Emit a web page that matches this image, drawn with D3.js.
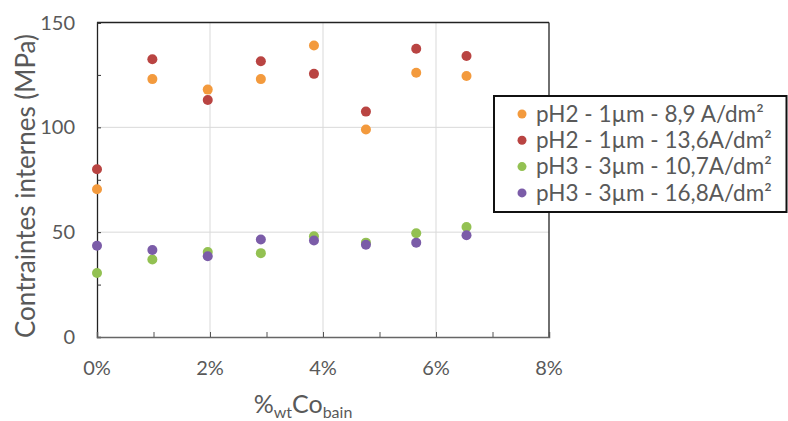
<!DOCTYPE html>
<html><head><meta charset="utf-8">
<script src="https://cdn.jsdelivr.net/npm/d3@7"></script>
<style>body{margin:0;background:#fff}svg{display:block}</style>
</head><body>
<svg id="c" width="788" height="421"></svg>
<script>
const xValues = [0, 0.98, 1.96, 2.90, 3.84, 4.76, 5.65, 6.54];
const seriesNames = ["pH2 - 1µm - 8,9 A/dm²", "pH2 - 1µm - 13,6A/dm²", "pH3 - 3µm - 10,7A/dm²", "pH3 - 3µm - 16,8A/dm²"];
const orangeValues = [70.5, 123, 118, 123, 139, 99, 126, 124.5];
const redValues = [80, 132.5, 113, 131.5, 125.5, 107.5, 137.5, 134];
const greenValues = [30.5, 37, 40.5, 40, 48, 45, 49.5, 52.5];
const purpleValues = [43.5, 41.5, 38.5, 46.5, 46, 44, 45, 48.5];
const seriesColors = ["#F39A3D", "#B94442", "#93C152", "#7B5CA8"];
const xTicks = [0, 2, 4, 6, 8];
const yTicks = [0, 50, 100, 150];

const series = [orangeValues, redValues, greenValues, purpleValues];
const svg = d3.select("#c");
const font = "Lato, 'Open Sans', sans-serif";
const txt = "#595959";
const L = 97, R = 549, T = 22.5, B = 337;
const x = d3.scaleLinear().domain([0, 8]).range([L, R]);
const y = d3.scaleLinear().domain([0, 150]).range([B, T]);

// grid
svg.append("g").selectAll("line").data([2, 4, 6]).join("line")
  .attr("x1", d => x(d)).attr("x2", d => x(d)).attr("y1", T).attr("y2", B)
  .attr("stroke", "#d9d9d9").attr("stroke-width", 1);
svg.append("g").selectAll("line").data([50, 100]).join("line")
  .attr("y1", d => y(d)).attr("y2", d => y(d)).attr("x1", L).attr("x2", R)
  .attr("stroke", "#d9d9d9").attr("stroke-width", 1);

// frame
svg.append("line").attr("x1", L).attr("x2", R).attr("y1", T).attr("y2", T).attr("stroke", "#222").attr("stroke-width", 1.3);
svg.append("line").attr("x1", R).attr("x2", R).attr("y1", T).attr("y2", B).attr("stroke", "#222").attr("stroke-width", 1.3);

// axes
const yAxis = d3.axisRight(y).tickValues(d3.range(0, 151, 25)).tickSize(4).tickFormat("");
const gy = svg.append("g").attr("transform", `translate(${L},0)`).call(yAxis);
gy.select(".domain").attr("stroke", "#222").attr("stroke-width", 1.3);
gy.selectAll(".tick line").attr("stroke", "#333");
const xAxis = d3.axisTop(x).tickValues(d3.range(0, 9, 1)).tickSize(5).tickFormat("");
const gx = svg.append("g").attr("transform", `translate(0,${B})`).call(xAxis);
gx.select(".domain").attr("stroke", "#666").attr("stroke-width", 1.5);
gx.selectAll(".tick line").attr("stroke", "#555");

// tick labels
svg.append("g").selectAll("text").data(yTicks).join("text")
  .attr("x", 75).attr("y", d => y(d)).attr("dy", "0.35em").attr("text-anchor", "end")
  .attr("font-family", font).attr("font-size", 20).attr("fill", txt).text(d => d);
svg.append("g").selectAll("text").data(xTicks).join("text")
  .attr("x", d => x(d)).attr("y", 368).attr("dy", "0.35em").attr("text-anchor", "middle")
  .attr("font-family", font).attr("font-size", 20).attr("fill", txt).text(d => d + "%");

// points
series.forEach((vals, i) => {
  svg.append("g").selectAll("circle").data(vals).join("circle")
    .attr("cx", (d, j) => x(xValues[j])).attr("cy", d => y(d)).attr("r", 5)
    .attr("fill", seriesColors[i]);
});

// axis titles
svg.append("text").attr("transform", "translate(35,186) rotate(-90)").attr("text-anchor", "middle")
  .attr("font-family", font).attr("font-size", 26).attr("fill", txt).text("Contraintes internes (MPa)");
const xt = svg.append("text").attr("x", 303).attr("y", 413).attr("text-anchor", "middle")
  .attr("font-family", font).attr("font-size", 25).attr("fill", txt);
xt.append("tspan").text("%");
xt.append("tspan").attr("font-size", 16).attr("dy", 5).text("wt");
xt.append("tspan").attr("dy", -5).text("Co");
xt.append("tspan").attr("font-size", 16).attr("dy", 5).text("bain");

// legend
const lg = svg.append("g");
lg.append("rect").attr("x", 494).attr("y", 96).attr("width", 292.5).attr("height", 116)
  .attr("fill", "#fff").attr("stroke", "#111").attr("stroke-width", 2);
seriesNames.forEach((n, i) => {
  const cy = 114 + i * 26.3;
  lg.append("circle").attr("cx", 522).attr("cy", cy).attr("r", 4.5).attr("fill", seriesColors[i]);
  lg.append("text").attr("x", 536).attr("y", cy).attr("dy", "0.35em")
    .attr("font-family", font).attr("font-size", 22.5).attr("fill", txt).text(n);
});
</script>
</body></html>
